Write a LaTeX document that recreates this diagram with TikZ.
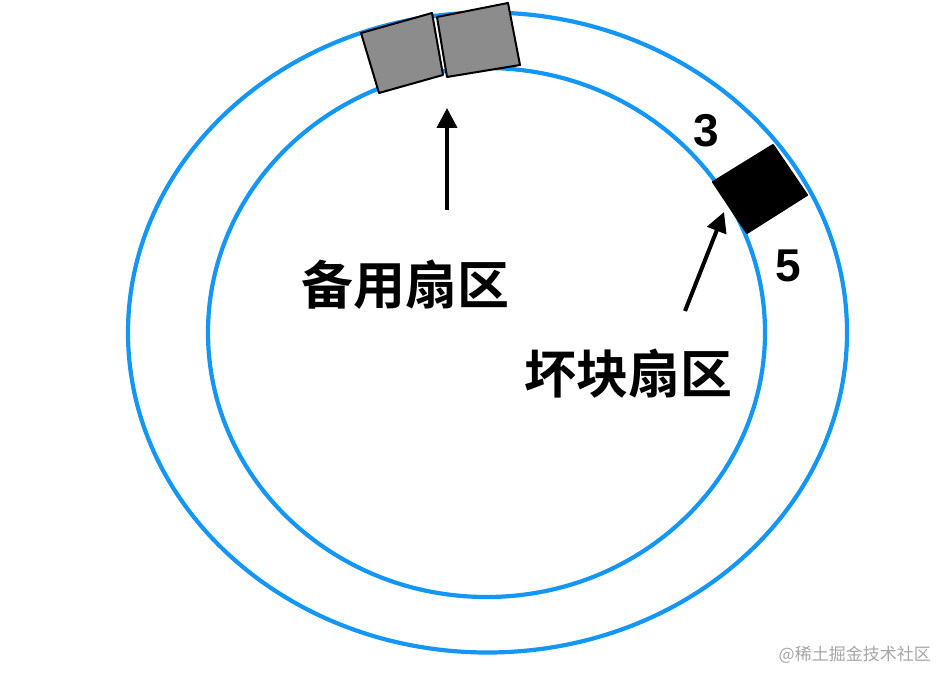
\documentclass[tikz,border=0pt]{standalone}
\usepackage{fontspec}
\setmainfont{Liberation Sans}
\newfontfamily\cjk{Noto Sans CJK SC}
\newfontfamily\cjkb{Noto Sans CJK SC Bold}
\usetikzlibrary{arrows.meta}
\definecolor{ringblue}{RGB}{20,150,245}
\definecolor{sectorgray}{RGB}{140,140,140}
\begin{document}
\begin{tikzpicture}[x=1pt,y=-1pt,
  ring/.style={draw=ringblue,line width=4.2pt},
  sector/.style={draw=black,line width=2pt,line join=round},
  pointer/.style={draw=black,line width=4pt,-{Triangle[length=20pt,width=20pt]}},
  cnlabel/.style={inner sep=0pt,font=\cjkb\fontsize{52}{52}\selectfont},
  numlabel/.style={inner sep=0pt,font=\bfseries\fontsize{46}{46}\selectfont}]
\useasboundingbox (0,0) rectangle (952,684);
\fill[white] (0,0) rectangle (952,684);
% rings
\draw[ring] (487.5,332.5) ellipse [x radius=359.5,y radius=320];
\draw[ring] (486.5,332.5) ellipse [x radius=278.5,y radius=264.5];
% spare sectors
\filldraw[sector,fill=sectorgray] (361,33) -- (432,13) -- (443,75) -- (379,93) -- cycle;
\filldraw[sector,fill=sectorgray] (437,17) -- (508,3) -- (520,65) -- (447,77) -- cycle;
% bad sector
\filldraw[sector,fill=black] (773,145) -- (807,195) -- (747,233) -- (713,182) -- cycle;
% labels
\node[cnlabel] (spare) at (405,285) {备用扇区};
\node[cnlabel] (bad) at (628,374) {坏块扇区};
\node[numlabel] (three) at (706,131) {3};
\node[numlabel] (five) at (788,266) {5};
\node[inner sep=0pt,text=black!35,font=\cjk\fontsize{17}{17}\selectfont,anchor=east] (wm) at (931,655) {@稀土掘金技术社区};
% pointers
\coordinate (s0) at (447,210);
\coordinate (s1) at (447,108);
\coordinate (b0) at (685,311);
\coordinate (b1) at (724,212);
\draw[pointer] (s0) -- (s1);
\draw[pointer] (b0) -- (b1);
\end{tikzpicture}
\end{document}
